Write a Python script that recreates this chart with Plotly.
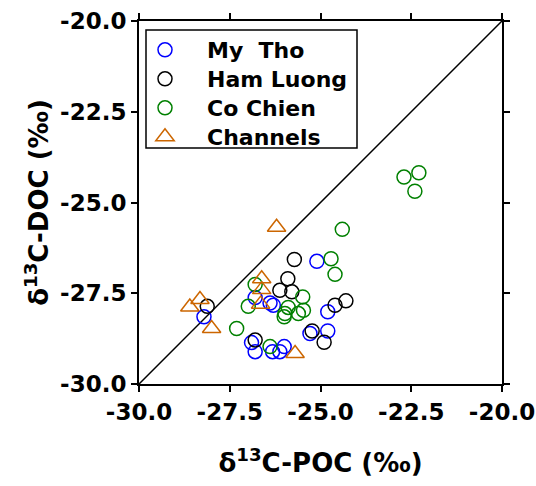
import plotly.graph_objects as go

# My Tho
mytho_poc = [-28.21, -26.80, -26.39, -26.30, -25.10, -24.80, -24.80, -25.29, -26.90, -26.80, -26.32, -26.12, -26.00]
mytho_doc = [-28.15, -27.62, -27.77, -27.83, -26.62, -28.01, -28.54, -28.61, -28.86, -29.11, -29.11, -29.11, -28.97]
# Ham Luong
ham_poc = [-28.12, -25.72, -25.90, -26.12, -25.79, -24.60, -24.30, -25.23, -24.90, -26.80]
ham_doc = [-27.86, -26.57, -27.10, -27.42, -27.46, -27.83, -27.71, -28.54, -28.85, -28.79]
# Co Chien
co_poc = [-24.40, -24.71, -24.60, -26.80, -26.99, -27.31, -25.49, -25.89, -25.98, -26.00, -25.61, -25.47, -26.39, -22.70, -22.29, -22.40]
co_doc = [-25.74, -26.55, -26.98, -27.26, -27.86, -28.47, -27.60, -27.89, -28.06, -28.15, -28.06, -27.97, -28.97, -24.30, -24.18, -24.69]
# Channels
ch_poc = [-26.21, -26.62, -26.62, -26.65, -28.60, -28.32, -28.00, -25.70]
ch_doc = [-25.68, -27.10, -27.40, -27.80, -27.88, -27.67, -28.47, -29.16]

one_to_one = [-30.0, -20.0]
tick_vals = [-30.0, -27.5, -25.0, -22.5, -20.0]
tick_text = ["-30.0", "-27.5", "-25.0", "-22.5", "-20.0"]

FONT = "DejaVu Sans"

L, R, T, B = 139, 34, 21, 102
pw = 536 - L - R
ph = 486 - T - B

def px_x(p):
    return (p - L) / pw

def px_y(p):
    return (486 - B - p) / ph

fig = go.Figure()
fig.add_trace(go.Scatter(x=one_to_one, y=one_to_one, mode="lines",
                         line=dict(color="black", width=1.5), showlegend=False, hoverinfo="skip"))

def add(xs, ys, name, color, symbol, size, legend):
    fig.add_trace(go.Scatter(x=xs, y=ys, mode="markers", name=name, legend=legend,
                             marker=dict(symbol=symbol, size=size, color=color,
                                         line=dict(color=color, width=1.5))))

add(mytho_poc, mytho_doc, "My  Tho", "#0000FF", "circle-open", 14, "legend")
add(ham_poc, ham_doc, "Ham Luong", "#000000", "circle-open", 14, "legend2")
add(co_poc, co_doc, "Co Chien", "#008000", "circle-open", 14, "legend3")
add(ch_poc, ch_doc, "Channels", "#CC6600", "triangle-up-open", 16, "legend4")

axis_common = dict(range=[-30, -20], tickvals=tick_vals, ticktext=tick_text,
                   showgrid=False, zeroline=False, showline=True, linecolor="black",
                   linewidth=2, mirror="ticks", ticks="outside", ticklen=6, tickwidth=2,
                   tickcolor="black", automargin=False,
                   tickfont=dict(family=FONT, size=23, color="black", weight="bold"))

def leg(ypx):
    return dict(x=px_x(123), y=px_y(ypx), xanchor="left", yanchor="middle",
                bgcolor="rgba(0,0,0,0)", borderwidth=0,
                font=dict(family=FONT, size=22, color="black", weight="bold"),
                itemwidth=74)

fig.update_layout(
    width=536, height=486,
    margin=dict(l=L, r=R, t=T, b=B),
    plot_bgcolor="white", paper_bgcolor="white",
    xaxis=dict(**axis_common,
               title=dict(text="δ<sup>13</sup>C-POC (‰)", standoff=30,
                          font=dict(family=FONT, size=26, color="black", weight="bold"))),
    yaxis=dict(**axis_common,
               title=dict(text="δ<sup>13</sup>C-DOC (‰)", standoff=4,
                          font=dict(family=FONT, size=26, color="black", weight="bold"))),
    legend=leg(50), legend2=leg(79), legend3=leg(108), legend4=leg(137),
    shapes=[dict(type="rect", xref="paper", yref="paper",
                 x0=px_x(146), x1=px_x(357), y0=px_y(148), y1=px_y(30),
                 line=dict(color="black", width=1.5), fillcolor="white", layer="below")],
)

fig.write_html("out.html")
